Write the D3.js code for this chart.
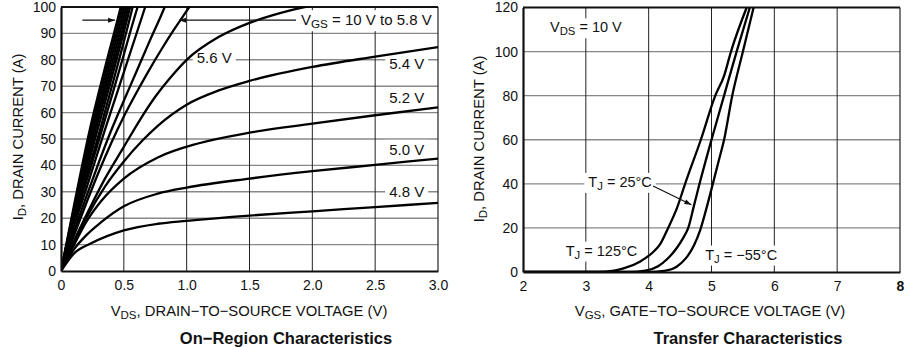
<!DOCTYPE html>
<html>
<head>
<meta charset="utf-8">
<script src="https://cdn.jsdelivr.net/npm/d3@7"></script>
<style>
  body { margin: 0; background: #fff; }
  svg text { font-family: "Liberation Sans", Arial, Helvetica, sans-serif; fill: #111; }
</style>
</head>
<body>
<div id="chart"></div>
<script>
// On-region characteristics: VDS (V) vs ID (A), one curve per gate voltage
const onGate = [10, 9, 8, 7.5, 7, 6.8, 6.6, 6.4, 6.2, 6.0, 5.8, 5.6, 5.4, 5.2, 5.0, 4.8];
const onCurves = [
  [[0,0],[0.1,24],[0.228,53.3],[0.35,77],[0.475,100],[0.49,103]],
  [[0,0],[0.1,23],[0.238,53.3],[0.365,77],[0.49,100],[0.505,103]],
  [[0,0],[0.1,22],[0.25,53.3],[0.38,77],[0.505,100],[0.52,103]],
  [[0,0],[0.1,21],[0.262,53.3],[0.395,77],[0.52,100],[0.535,103]],
  [[0,0],[0.1,20],[0.275,53.3],[0.41,77],[0.535,100],[0.55,103]],
  [[0,0],[0.1,19.5],[0.29,53.3],[0.425,77],[0.55,100],[0.565,103]],
  [[0,0],[0.1,18.5],[0.31,53.3],[0.445,77],[0.57,100],[0.585,103]],
  [[0,0],[0.1,17.5],[0.325,53.3],[0.47,77],[0.61,100],[0.63,103]],
  [[0,0],[0.1,16.5],[0.2,31],[0.348,53.3],[0.45,68],[0.56,84],[0.67,100],[0.69,103]],
  [[0,0],[0.1,14.5],[0.2,28],[0.3,41],[0.4,53.3],[0.5,64.5],[0.6,75.5],[0.7,86.5],[0.825,100],[0.85,103]],
  [[0,0],[0.1,13],[0.2,25.5],[0.3,37.5],[0.4,48.5],[0.5,58.5],[0.6,67.5],[0.7,76],[0.8,84],[0.9,91.5],[1.0,98.5],[1.05,102]],
  [[0,0],[0.1,11],[0.2,21],[0.35,35],[0.5,47],[0.625,57],[0.75,66],[0.875,73.5],[1.0,80],[1.25,88.5],[1.5,94],[1.75,97.8],[2.0,100.6]],
  [[0,0],[0.1,10.5],[0.2,20],[0.35,32],[0.5,41.5],[0.65,49.5],[0.77,55],[1.0,63],[1.25,68.3],[1.5,72],[2.0,77.3],[2.5,81.2],[3.0,84.8]],
  [[0,0],[0.1,9.5],[0.2,18.5],[0.32,26.5],[0.5,35],[0.77,43],[1.09,48.3],[1.5,52.4],[2.0,55.8],[2.5,59],[3.0,62]],
  [[0,0],[0.1,8],[0.2,13.5],[0.32,18.5],[0.5,24.5],[0.77,29.3],[1.0,31.6],[1.5,35],[2.0,37.8],[2.5,40.2],[3.0,42.6]],
  [[0,0],[0.1,6.5],[0.24,10.5],[0.5,15.4],[0.77,17.9],[1.0,19],[1.5,21],[2.0,22.6],[2.5,24.2],[3.0,25.8]]
];
const onXTicks = [0, 0.5, 1.0, 1.5, 2.0, 2.5, 3.0];
const onYTicks = [0, 10, 20, 30, 40, 50, 60, 70, 80, 90, 100];

// Transfer characteristics: VGS (V) vs ID (A) at VDS = 10 V
const junctionTemps = ["125°C", "25°C", "\u221255°C"];
const transferCurves = [
  [[2,0],[3.2,0],[3.45,0.6],[3.6,1.6],[3.86,4.7],[4.05,8.5],[4.18,12.5],[4.31,20],[4.45,29],[4.58,40],[4.83,60],[5.06,80],[5.2,89],[5.31,100],[5.56,120]],
  [[2,0],[3.7,0],[3.95,0.6],[4.15,2.6],[4.3,6],[4.45,11],[4.55,15.5],[4.63,20],[4.72,30],[4.8,39],[5.0,60],[5.2,80],[5.4,100],[5.61,120]],
  [[2,0],[4.0,0],[4.25,0.5],[4.45,2.5],[4.6,6.5],[4.72,12],[4.82,19],[4.93,30],[5.03,41],[5.12,51],[5.2,60],[5.33,80],[5.5,100],[5.67,120]]
];
const trXTicks = [2, 3, 4, 5, 6, 7, 8];
const trYTicks = [0, 20, 40, 60, 80, 100, 120];

var W = 910, H = 347;
var svg = d3.select("#chart").append("svg")
  .attr("width", W).attr("height", H);

var defs = svg.append("defs");
defs.append("marker")
  .attr("id", "arrow")
  .attr("viewBox", "0 0 10 10")
  .attr("refX", 10).attr("refY", 5)
  .attr("markerWidth", 9).attr("markerHeight", 7)
  .attr("markerUnits", "userSpaceOnUse")
  .attr("orient", "auto")
  .append("path").attr("d", "M0,1.5 L10,5 L0,8.5 Z").attr("fill", "#111");

function drawPanel(opt) {
  var x = d3.scaleLinear().domain(opt.xDomain).range(opt.xRange);
  var y = d3.scaleLinear().domain(opt.yDomain).range(opt.yRange);
  var g = svg.append("g");

  defs.append("clipPath").attr("id", opt.id + "-clip")
    .append("rect")
    .attr("x", opt.xRange[0]).attr("y", opt.yRange[1])
    .attr("width", opt.xRange[1] - opt.xRange[0])
    .attr("height", opt.yRange[0] - opt.yRange[1]);

  // grid: horizontal lines lighter than vertical ones
  g.selectAll(".hgrid")
    .data(opt.yTicks.slice(1, -1))
    .enter().append("line")
    .attr("x1", opt.xRange[0]).attr("x2", opt.xRange[1])
    .attr("y1", d => y(d)).attr("y2", d => y(d))
    .attr("stroke", "#888").attr("stroke-width", 1.4);
  g.selectAll(".vgrid")
    .data(opt.xTicks.slice(1, -1))
    .enter().append("line")
    .attr("x1", d => x(d)).attr("x2", d => x(d))
    .attr("y1", opt.yRange[0]).attr("y2", opt.yRange[1])
    .attr("stroke", "#222").attr("stroke-width", 1);

  // frame
  g.append("line").attr("x1", opt.xRange[1]).attr("x2", opt.xRange[1])
    .attr("y1", opt.yRange[0]).attr("y2", opt.yRange[1])
    .attr("stroke", "#222").attr("stroke-width", 1.2);
  g.append("line").attr("x1", opt.xRange[0]).attr("x2", opt.xRange[1])
    .attr("y1", opt.yRange[1]).attr("y2", opt.yRange[1])
    .attr("stroke", "#111").attr("stroke-width", 1.8);

  var layer = { x: x, y: y, g: g };
  layer.labels = g.append("g");
  layer.curves = g.append("g").attr("clip-path", "url(#" + opt.id + "-clip)");

  // axes
  var xAxis = g.append("g")
    .attr("transform", "translate(0," + opt.yRange[0] + ")")
    .call(d3.axisBottom(x).tickValues(opt.xTicks).tickSize(0).tickPadding(9)
      .tickFormat(opt.xFormat));
  var yAxis = g.append("g")
    .attr("transform", "translate(" + opt.xRange[0] + ",0)")
    .call(d3.axisLeft(y).tickValues(opt.yTicks).tickSize(0).tickPadding(5));
  [xAxis, yAxis].forEach(a => {
    a.select(".domain").attr("stroke", "#111").attr("stroke-width", 2.2);
    a.selectAll("text").attr("font-size", 14).attr("fill", "#111")
      .attr("font-family", "Liberation Sans, Arial, sans-serif");
  });
  layer.xAxis = xAxis;

  // axis titles with subscripts
  var xt = g.append("text")
    .attr("x", opt.xTitleX).attr("y", 316)
    .attr("text-anchor", "middle").attr("font-size", 14.8);
  xt.append("tspan").text("V");
  xt.append("tspan").attr("font-size", 11.5).attr("dy", 3).text(opt.xSub);
  xt.append("tspan").attr("dy", -3).text(opt.xTitle);

  var yt = g.append("text")
    .attr("transform", "translate(" + opt.yTitleX + "," + opt.yTitleY + ") rotate(-90)")
    .attr("text-anchor", "middle").attr("font-size", 14.8);
  yt.append("tspan").text("I");
  yt.append("tspan").attr("font-size", 11.5).attr("dy", 3).text("D");
  yt.append("tspan").attr("dy", -3).text(", DRAIN CURRENT (A)");

  g.append("text")
    .attr("x", opt.titleX).attr("y", 344)
    .attr("text-anchor", "middle")
    .attr("font-size", 16.5).attr("font-weight", "bold")
    .text(opt.title);

  return layer;
}

var line = (x, y) => d3.line()
  .x(d => x(d[0])).y(d => y(d[1]))
  .curve(d3.curveMonotoneX);

// label with white box so grid lines break behind it
function boxedLabel(parent, px, py, size, parts, anchor) {
  var t = parent.append("text")
    .attr("x", px).attr("y", py)
    .attr("font-size", size)
    .attr("text-anchor", anchor || "start");
  parts.forEach(p => {
    var s = t.append("tspan").text(p.text);
    if (p.sub) s.attr("font-size", size * 0.78).attr("dy", 3);
    if (p.back) s.attr("dy", -3);
  });
  var b = t.node().getBBox();
  parent.insert("rect", function () { return t.node(); })
    .attr("x", b.x - 4).attr("y", b.y - 1)
    .attr("width", b.width + 8).attr("height", b.height + 2)
    .attr("fill", "#fff");
  return t;
}

// ---- On-Region Characteristics ----
var left = drawPanel({
  id: "on",
  xDomain: [0, 3], xRange: [61, 438],
  yDomain: [0, 100], yRange: [271, 7],
  xTicks: onXTicks, yTicks: onYTicks,
  xFormat: d => d === 0 ? "0" : d3.format(".1f")(d),
  xSub: "DS", xTitle: ", DRAIN\u2212TO\u2212SOURCE VOLTAGE (V)", xTitleX: 249,
  yTitleX: 23, yTitleY: 137,
  title: "On\u2212Region Characteristics", titleX: 286
});

boxedLabel(left.labels, left.x(1.08), left.y(80) + 3.5, 15, [{ text: "5.6 V" }]);
boxedLabel(left.labels, left.x(2.89), left.y(78.5) + 5, 15, [{ text: "5.4 V" }], "end");
boxedLabel(left.labels, left.x(2.89), left.y(65) + 4, 15, [{ text: "5.2 V" }], "end");
boxedLabel(left.labels, left.x(2.89), left.y(44), 15, [{ text: "5.0 V" }], "end");
boxedLabel(left.labels, left.x(2.89), left.y(30) + 5, 15, [{ text: "4.8 V" }], "end");
boxedLabel(left.labels, left.x(1.91), left.y(95) + 5, 15,
  [{ text: "V" }, { text: "GS", sub: true }, { text: " = 10 V to 5.8 V", back: true }]);

left.curves.selectAll(".on")
  .data(onCurves)
  .enter().append("path")
  .attr("class", "on")
  .attr("fill", "none")
  .attr("stroke", "#000")
  .attr("stroke-width", 2.3)
  .attr("d", line(left.x, left.y));

// arrows pointing at the VGS = 10 V .. 5.8 V group
left.g.append("line")
  .attr("x1", left.x(0.17)).attr("x2", left.x(0.43))
  .attr("y1", left.y(95)).attr("y2", left.y(95))
  .attr("stroke", "#111").attr("stroke-width", 1.2)
  .attr("marker-end", "url(#arrow)");
left.g.append("line")
  .attr("x1", left.x(1.87)).attr("x2", left.x(0.94))
  .attr("y1", left.y(95)).attr("y2", left.y(95))
  .attr("stroke", "#111").attr("stroke-width", 1.2)
  .attr("marker-end", "url(#arrow)");

// ---- Transfer Characteristics ----
var right = drawPanel({
  id: "tr",
  xDomain: [2, 8], xRange: [523, 900],
  yDomain: [0, 120], yRange: [272, 7.5],
  xTicks: trXTicks, yTicks: trYTicks,
  xFormat: d3.format("d"),
  xSub: "GS", xTitle: ", GATE\u2212TO\u2212SOURCE VOLTAGE (V)", xTitleX: 710,
  yTitleX: 484, yTitleY: 139,
  title: "Transfer Characteristics", titleX: 748
});
right.xAxis.selectAll("text").filter(d => d === 8).attr("font-weight", "bold");

boxedLabel(right.labels, right.x(2.43), right.y(111) + 5, 14.5,
  [{ text: "V" }, { text: "DS", sub: true }, { text: " = 10 V", back: true }]);
boxedLabel(right.labels, right.x(3.04), right.y(40) + 3, 14.5,
  [{ text: "T" }, { text: "J", sub: true }, { text: " = " + junctionTemps[1], back: true }]);
boxedLabel(right.labels, right.x(2.68), right.y(8.8) + 3, 14.5,
  [{ text: "T" }, { text: "J", sub: true }, { text: " = " + junctionTemps[0], back: true }]);
boxedLabel(right.labels, right.x(4.9), right.y(7) + 3, 14.5,
  [{ text: "T" }, { text: "J", sub: true }, { text: " = " + junctionTemps[2], back: true }]);

right.curves.selectAll(".tr")
  .data(transferCurves)
  .enter().append("path")
  .attr("class", "tr")
  .attr("fill", "none")
  .attr("stroke", "#000")
  .attr("stroke-width", 2.3)
  .attr("d", line(right.x, right.y));

right.g.append("line")
  .attr("x1", right.x(4.07)).attr("x2", right.x(4.68))
  .attr("y1", right.y(39)).attr("y2", right.y(30.5))
  .attr("stroke", "#111").attr("stroke-width", 1.2)
  .attr("marker-end", "url(#arrow)");
</script>
</body>
</html>
